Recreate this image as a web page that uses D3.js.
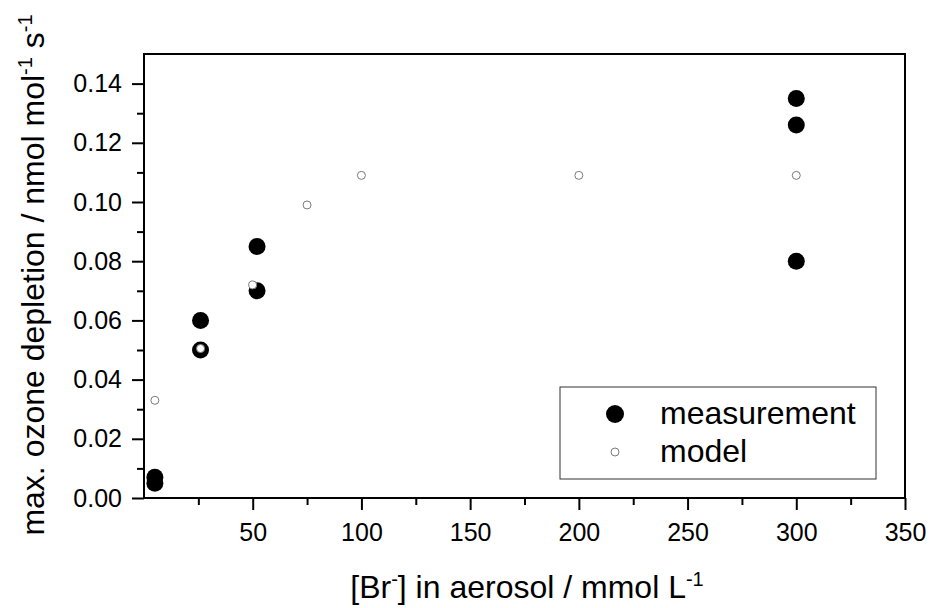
<!DOCTYPE html>
<html>
<head>
<meta charset="utf-8">
<script src="https://cdn.jsdelivr.net/npm/d3@7"></script>
<style>
  body { margin: 0; background: #fff; }
  svg { display: block; font-family: "Liberation Sans", Arial, sans-serif; }
  .axis path { display: none; }
  .axis line { stroke: #000; stroke-width: 2; }
  .axis text { fill: #000; font-size: 25px; font-family: "Liberation Sans", Arial, sans-serif; }
</style>
</head>
<body>
<svg></svg>
<script>
var width = 930;
var height = 608;

// data
var measX = [5, 5, 26, 26, 52, 52, 300, 300, 300];
var measY = [0.007, 0.005, 0.06, 0.05, 0.085, 0.07, 0.135, 0.126, 0.08];
var modelX = [5, 26, 50, 75, 100, 200, 300];
var modelY = [0.033, 0.0505, 0.072, 0.099, 0.109, 0.109, 0.109];

var xMajor = [50, 100, 150, 200, 250, 300, 350];
var xMinor = [25, 75, 125, 175, 225, 275, 325];
var yMajor = [0, 0.02, 0.04, 0.06, 0.08, 0.1, 0.12, 0.14];
var yMinor = [0.01, 0.03, 0.05, 0.07, 0.09, 0.11, 0.13];

var svg = d3.select("svg").attr("width", width).attr("height", height);

var padding = { top: 54, right: 25, bottom: 110, left: 144 };

var xScale = d3.scaleLinear()
  .domain([0, 350])
  .range([padding.left, width - padding.right]);

var yScale = d3.scaleLinear()
  .domain([0, 0.15])
  .range([height - padding.bottom, padding.top]);

var x0 = xScale.range()[0], x1 = xScale.range()[1];
var y0 = yScale.range()[0], y1 = yScale.range()[1];

// minor ticks
svg.append("g")
  .attr("class", "axis")
  .attr("transform", "translate(0," + y0 + ")")
  .call(d3.axisBottom(xScale).tickValues(xMinor).tickSize(7).tickFormat(""));

svg.append("g")
  .attr("class", "axis")
  .attr("transform", "translate(" + x0 + ",0)")
  .call(d3.axisLeft(yScale).tickValues(yMinor).tickSize(7).tickFormat(""));

// major ticks
svg.append("g")
  .attr("class", "axis")
  .attr("transform", "translate(0," + y0 + ")")
  .call(d3.axisBottom(xScale).tickValues(xMajor).tickSize(12).tickPadding(13).tickFormat(d3.format("d")));

svg.append("g")
  .attr("class", "axis")
  .attr("transform", "translate(" + x0 + ",0)")
  .call(d3.axisLeft(yScale).tickValues(yMajor).tickSize(12).tickPadding(10).tickFormat(d3.format(".2f")));

// frame
svg.append("rect")
  .attr("x", x0)
  .attr("y", y1)
  .attr("width", x1 - x0)
  .attr("height", y0 - y1)
  .attr("fill", "none")
  .attr("stroke", "#000")
  .attr("stroke-width", 2);

// measurement points
svg.append("g")
  .selectAll("circle")
  .data(measX)
  .enter()
  .append("circle")
  .attr("cx", d => xScale(d))
  .attr("cy", (d, i) => yScale(measY[i]))
  .attr("r", 8.5)
  .attr("fill", "#000");

// model points
svg.append("g")
  .selectAll("circle")
  .data(modelX)
  .enter()
  .append("circle")
  .attr("cx", d => xScale(d))
  .attr("cy", (d, i) => yScale(modelY[i]))
  .attr("r", 4)
  .attr("fill", "#fff")
  .attr("stroke", "#7a7a7a")
  .attr("stroke-width", 1);

// legend
var legend = svg.append("g");
legend.append("rect")
  .attr("x", 560)
  .attr("y", 387)
  .attr("width", 316)
  .attr("height", 92)
  .attr("fill", "#fff")
  .attr("stroke", "#333")
  .attr("stroke-width", 1);
legend.append("circle")
  .attr("cx", 615).attr("cy", 414).attr("r", 9).attr("fill", "#000");
legend.append("circle")
  .attr("cx", 615).attr("cy", 452).attr("r", 4)
  .attr("fill", "#fff").attr("stroke", "#7a7a7a").attr("stroke-width", 1);
legend.append("text")
  .attr("x", 660).attr("y", 424)
  .attr("font-size", 32)
  .text("measurement");
legend.append("text")
  .attr("x", 660).attr("y", 462)
  .attr("font-size", 32)
  .text("model");

// axis titles
var xt = svg.append("text")
  .attr("x", 527)
  .attr("y", 598)
  .attr("text-anchor", "middle")
  .attr("font-size", 32);
xt.append("tspan").text("[Br");
xt.append("tspan").attr("dy", -12).attr("font-size", 20).text("-");
xt.append("tspan").attr("dy", 12).text("] in aerosol / mmol L");
xt.append("tspan").attr("dy", -12).attr("font-size", 20).text("-1");

var yt = svg.append("text")
  .attr("transform", "translate(44,275) rotate(-90)")
  .attr("text-anchor", "middle")
  .attr("font-size", 32);
yt.append("tspan").text("max. ozone depletion / nmol mol");
yt.append("tspan").attr("dy", -12).attr("font-size", 20).text("-1");
yt.append("tspan").attr("dy", 12).text(" s");
yt.append("tspan").attr("dy", -12).attr("font-size", 20).text("-1");
</script>
</body>
</html>
